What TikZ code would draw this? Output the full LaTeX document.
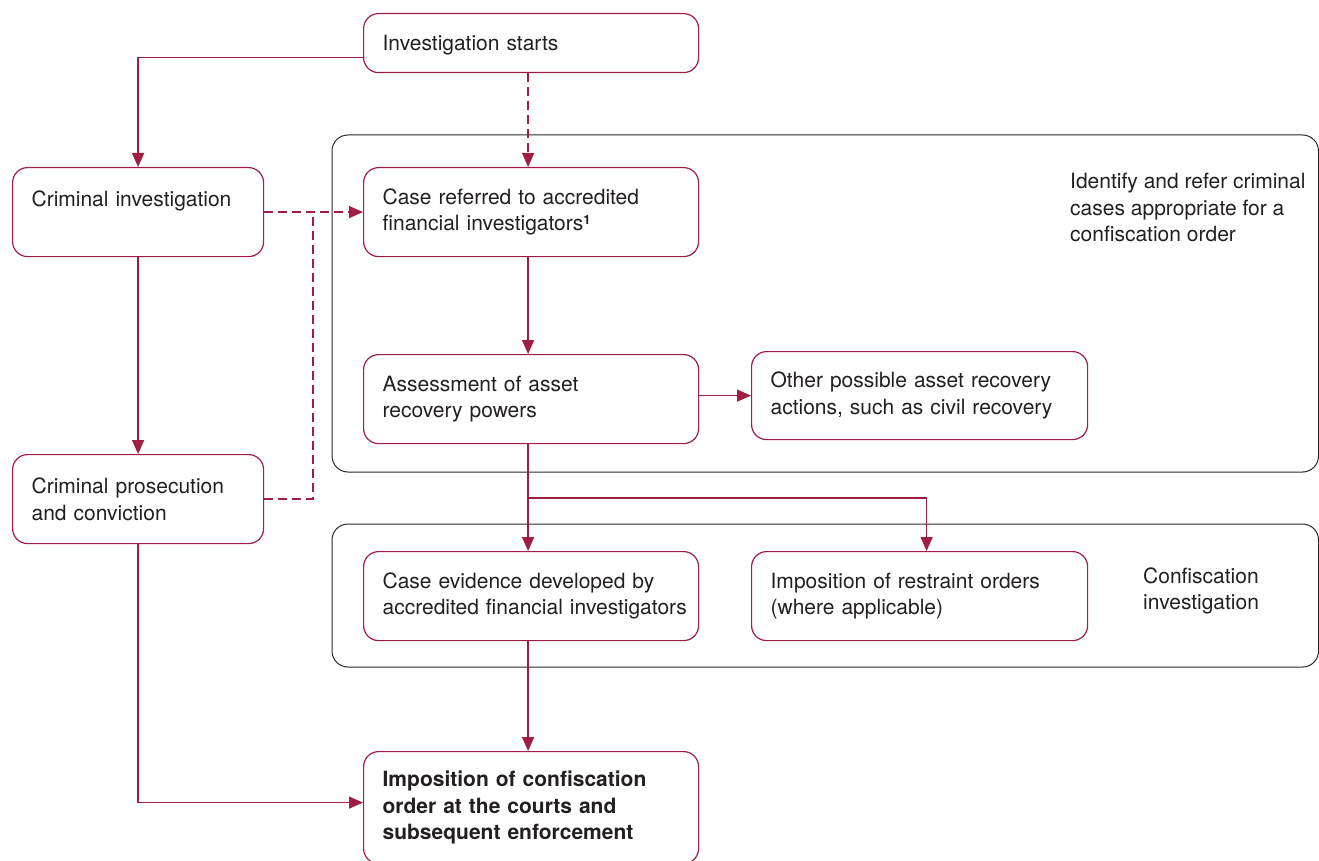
\documentclass[tikz,border=0pt]{standalone}
\usepackage{fontspec}
\setmainfont{TeX Gyre Heros}
\usetikzlibrary{arrows.meta}
\definecolor{crim}{RGB}{160,30,65}
\definecolor{ink}{RGB}{35,31,32}
\definecolor{frame}{RGB}{40,40,40}
\tikzset{
  bx/.style={draw=crim, line width=1.2pt, rounded corners=15pt, inner xsep=19pt, inner ysep=0pt,
    align=left, anchor=north west, text=ink, font=\fontsize{21}{26.5}\selectfont},
  conn/.style={draw=crim, line width=1.4pt},
  arr/.style={conn, -{Triangle[length=14pt,width=12pt]}},
  dsh/.style={conn, dash pattern=on 9pt off 5pt},
  lab/.style={anchor=west, align=left, inner sep=0pt, text=ink, font=\fontsize{21}{26.5}\selectfont},
  container/.style={draw=frame, line width=1pt, rounded corners=16pt}
}
\begin{document}
\begin{tikzpicture}[x=1pt,y=-1pt]
\useasboundingbox (0,0) rectangle (1319,861);
% containers
\draw[container] (332,135) rectangle (1318.5,472);
\draw[container] (332,524) rectangle (1318.5,667);
% boxes
\node[bx, text width=297pt, minimum height=59pt, text depth=2pt, text height=17pt] (start) at (363,13) {Investigation starts};
\node[bx, text width=213pt, minimum height=89pt] (crinv) at (12,167) {Criminal investigation\\\mbox{}};
\node[bx, text width=297pt, minimum height=89pt] (refer) at (363,167) {Case referred to accredited\\financial investigators{\fontsize{13}{13}\selectfont\raisebox{6pt}{\textbf{1}}}};
\node[bx, text width=297pt, minimum height=89pt] (assess) at (363,354) {Assessment of asset\\recovery powers};
\node[bx, text width=298pt, minimum height=88pt] (other) at (751,351) {Other possible asset recovery\\\mbox{actions, such as civil recovery}};
\node[bx, text width=213pt, minimum height=89pt] (pros) at (12,454) {Criminal prosecution\\and conviction};
\node[bx, text width=297pt, minimum height=89pt] (evid) at (363,551) {Case evidence developed by\\\mbox{accredited financial investigators}};
\node[bx, text width=298pt, minimum height=89pt] (restr) at (751,551) {Imposition of restraint orders\\(where applicable)};
\node[bx, text width=297pt, minimum height=112pt, font=\fontsize{21}{26.5}\selectfont\bfseries] (conf) at (363,751) {Imposition of confiscation\\order at the courts and\\subsequent enforcement};
% side labels
\node[lab] (lab1) at (1070,207.5) {Identify and refer criminal\\cases appropriate for a\\confiscation order};
\node[lab] (lab2) at (1143,591) {Confiscation\\investigation};
% connectors
\draw[arr] ([yshift=-14.5pt]start.west) -| (crinv.north);
\draw[arr, dash pattern=on 9pt off 5pt] ([xshift=-3pt]start.south) -- ([xshift=-3pt]refer.north);
\draw[arr, dash pattern=on 9pt off 5pt] (crinv.east) -- (refer.west);
\coordinate (join) at (313,211.5);
\draw[dsh] (pros.east) -| (join);
\draw[arr] (crinv.south) -- (pros.north);
\draw[arr] ([xshift=-3pt]refer.south) -- ([xshift=-3pt]assess.north);
\draw[arr] (assess.east |- other.west) -- (other.west);
\draw[arr] ([xshift=-3pt]assess.south) -- ([xshift=-3pt]evid.north);
\coordinate (branch) at (527.5,498);
\draw[arr] (branch) -| ([xshift=7pt]restr.north);
\draw[arr] ([xshift=-3pt]evid.south) -- ([xshift=-3pt]conf.north);
\draw[arr] (pros.south) |- ([yshift=5pt]conf.west);
\end{tikzpicture}
\end{document}
